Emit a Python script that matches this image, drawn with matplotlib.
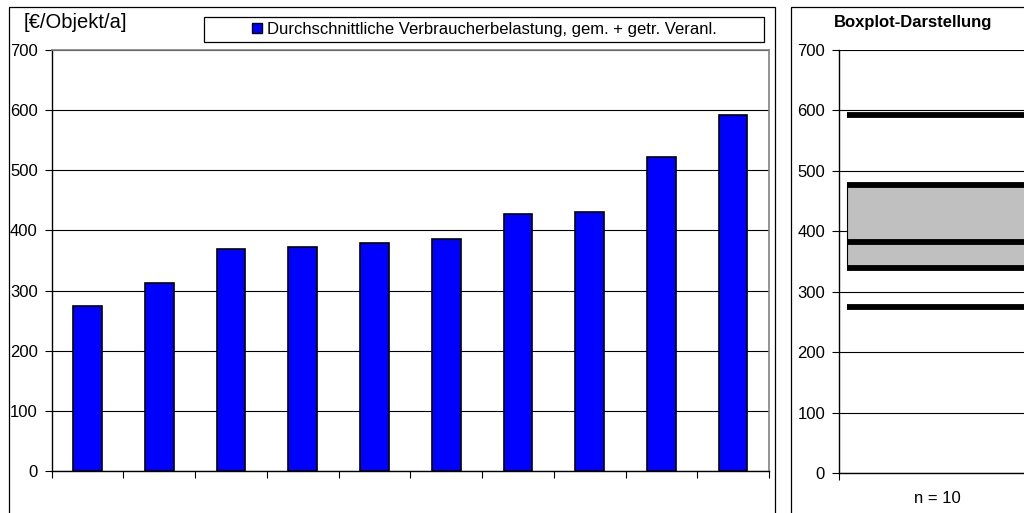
import matplotlib
matplotlib.use("Agg")
import matplotlib.pyplot as plt
from matplotlib.patches import Rectangle, Patch

plt.rcParams['font.family'] = ['Liberation Sans', 'DejaVu Sans']

# ---- data ----
bar_values = [274, 313, 369, 372, 379, 385, 427, 431, 522, 592]
legend_label = "Durchschnittliche Verbraucherbelastung, gem. + getr. Veranl."
unit_label = "[€/Objekt/a]"
y_ticks = [0, 100, 200, 300, 400, 500, 600, 700]
box_title = "Boxplot-Darstellung"
box_min, box_q1, box_median, box_q3, box_max = 274, 340, 382, 477, 592
box_n_label = "n = 10"

W, H = 1024, 513
fig = plt.figure(figsize=(W / 100, H / 100), dpi=100)

def fx(px):
    return px / W

def fy(py):
    return 1 - py / H

# outer frames
fig.patches.append(Rectangle((fx(9), fy(525)), fx(775) - fx(9), fy(7) - fy(525),
                             transform=fig.transFigure, fill=False, ec='black', lw=0.9))
fig.patches.append(Rectangle((fx(791), fy(525)), fx(1045) - fx(791), fy(7) - fy(525),
                             transform=fig.transFigure, fill=False, ec='black', lw=0.9))

# ---- left bar chart ----
ax = fig.add_axes([fx(51.7), fy(471), fx(769) - fx(51.7), fy(50) - fy(471)])
x = list(range(len(bar_values)))
ax.bar(x, bar_values, width=0.4, color='#0000FF', edgecolor='black', linewidth=1.2, zorder=3)
ax.set_xlim(-0.5, len(bar_values) - 0.5)
ax.set_ylim(0, 700)
ax.set_yticks(y_ticks)
ax.set_yticklabels([str(v) for v in y_ticks])
ax.set_xticks([i - 0.5 for i in range(len(bar_values) + 1)])
ax.set_xticklabels([])
ax.grid(axis='y', color='black', lw=0.8)
ax.grid(axis='x', visible=False)
ax.set_axisbelow(True)
ax.tick_params(axis='both', direction='out', length=5, width=0.8, color='black',
               labelsize=12, pad=5)
for s in ['top', 'right']:
    ax.spines[s].set_color('#808080')
    ax.spines[s].set_linewidth(1.2)
for s in ['left', 'bottom']:
    ax.spines[s].set_color('black')
    ax.spines[s].set_linewidth(1.0)

fig.text(fx(24), fy(23), unit_label, fontsize=14.5, ha='left', va='center')

# legend box
fig.patches.append(Rectangle((fx(204), fy(41.7)), fx(764) - fx(204), fy(16.7) - fy(41.7),
                             transform=fig.transFigure, fill=True, fc='white', ec='black', lw=0.9))
handle = Patch(facecolor='#0000FF', edgecolor='black', linewidth=1.0)
fig.legend([handle], [legend_label], loc='center',
           bbox_to_anchor=(fx(484), fy(29.2)), bbox_transform=fig.transFigure,
           frameon=False, fontsize=12, handlelength=0.6, handleheight=0.6,
           handletextpad=0.3, borderpad=0, borderaxespad=0)

# ---- right box plot ----
bx = fig.add_axes([fx(839), fy(473), fx(1035) - fx(839), fy(50) - fy(473)])
bx.set_xlim(-0.5, 0.5)
bx.set_ylim(0, 700)
bx.set_yticks(y_ticks)
bx.set_yticklabels([str(v) for v in y_ticks])
bx.set_xticks([-0.5, 0.5])
bx.set_xticklabels([])
bx.set_xticks([0], labels=[box_n_label], minor=True)
bx.tick_params(axis='both', which='major', direction='out', length=5, width=0.8,
               labelsize=12, pad=5)
bx.tick_params(axis='x', which='minor', length=0, labelsize=12, pad=13)
bx.grid(axis='y', color='black', lw=0.8)
bx.set_axisbelow(True)
for s in ['top', 'right']:
    bx.spines[s].set_visible(False)
bx.spines['left'].set_linewidth(1.0)
bx.spines['bottom'].set_linewidth(1.0)

hw = 0.46
bx.bar([0], [box_q3 - box_q1], bottom=[box_q1], width=2 * hw, color='#C0C0C0',
       edgecolor='black', linewidth=0.8, zorder=3)
bx.hlines([box_min, box_q1, box_median, box_q3, box_max], -hw, hw,
          colors='black', linewidth=4.2, zorder=4)

fig.text(fx(913), fy(23), box_title, fontsize=12, fontweight='bold', ha='center', va='center')

fig.savefig('out.png', dpi=100)
